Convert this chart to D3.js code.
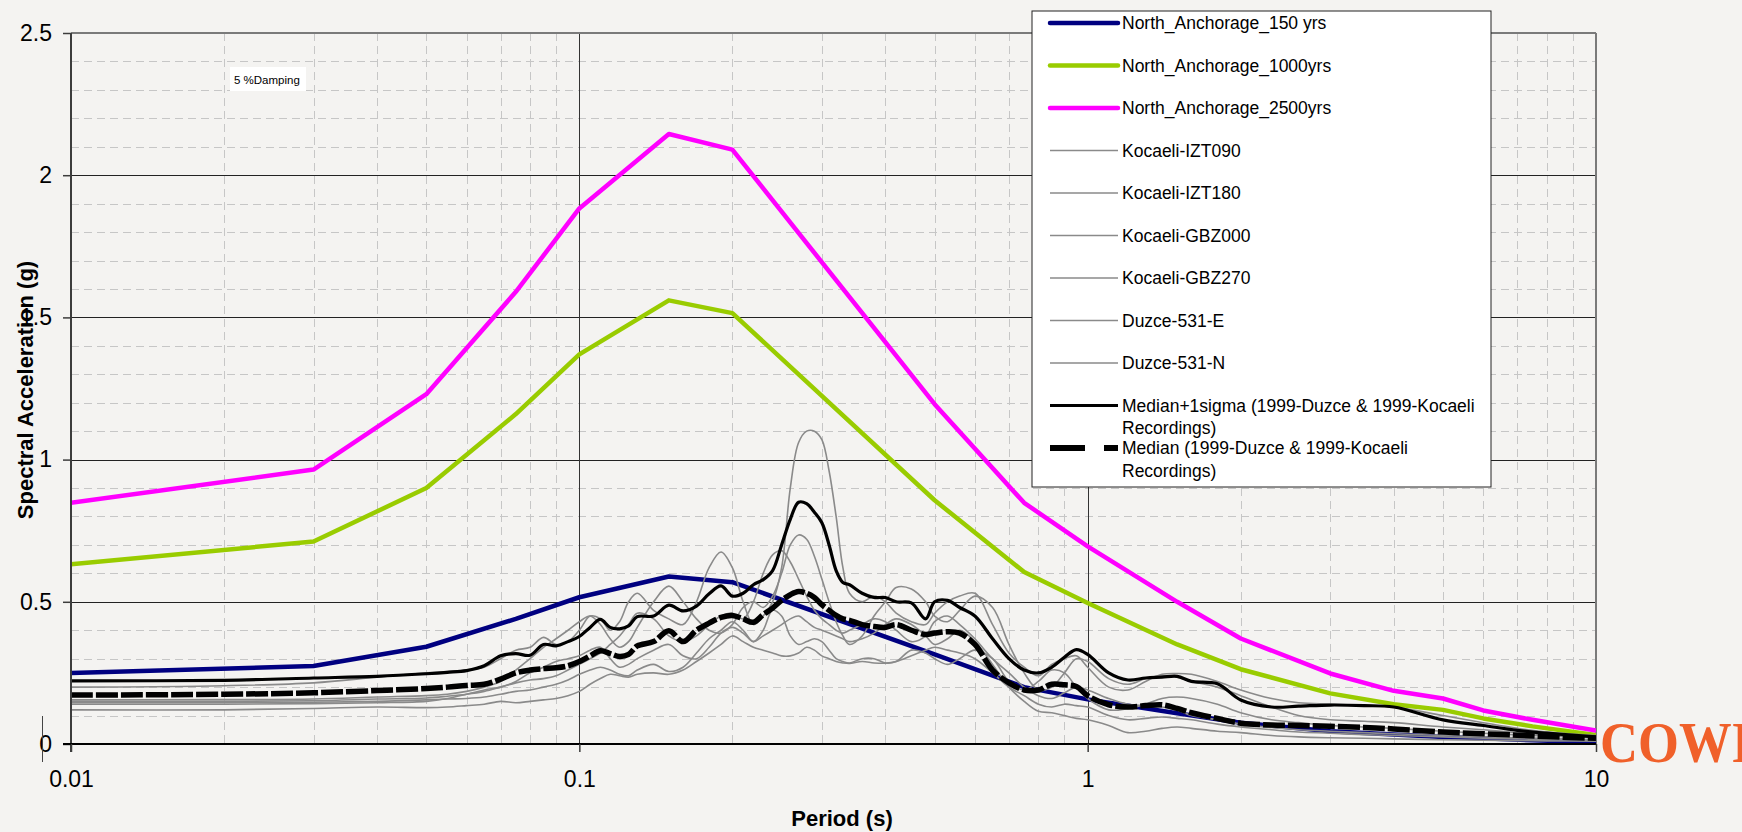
<!DOCTYPE html>
<html><head><meta charset="utf-8">
<script src="https://cdn.jsdelivr.net/npm/d3@7"></script>
<style>
html,body{margin:0;padding:0;background:#f4f3f1;}
svg{display:block;}
</style></head><body>
<svg id="chart" width="1742" height="832"></svg>
<script>
// ---------- axis ticks ----------
const xTicks = [0.01, 0.1, 1, 10];
const xTickLabels = ["0.01", "0.1", "1", "10"];
const yTicks = [0, 0.5, 1, 1.5, 2, 2.5];
const yTickLabels = ["0", "0.5", "1", "1.5", "2", "2.5"];

// ---------- target spectra ----------
const targetPeriods = [0.01, 0.03, 0.05, 0.075, 0.1, 0.15, 0.2, 0.5, 0.75, 1, 1.5, 2, 3, 4, 5, 6, 7.5, 10];
const na150  = [0.25, 0.274, 0.342, 0.44, 0.516, 0.589, 0.569, 0.315, 0.2, 0.157, 0.108, 0.075, 0.045, 0.033, 0.025, 0.02, 0.013, 0.006];
const na1000 = [0.632, 0.712, 0.90, 1.16, 1.37, 1.56, 1.515, 0.857, 0.605, 0.496, 0.35, 0.263, 0.178, 0.14, 0.12, 0.09, 0.062, 0.032];
const na2500 = [0.848, 0.965, 1.23, 1.59, 1.883, 2.145, 2.09, 1.195, 0.848, 0.695, 0.50, 0.371, 0.248, 0.187, 0.16, 0.118, 0.085, 0.047];

// ---------- recordings ----------
const recPeriods = [0.01,0.02,0.03,0.04,0.05,0.055,0.06,0.065,0.07,0.075,
 0.08,0.085,0.09,0.095,0.1,0.105,0.11,0.115,0.12,0.125,
 0.13,0.14,0.15,0.16,0.17,0.18,0.19,0.2,0.21,0.22,
 0.23,0.24,0.25,0.26,0.27,0.28,0.29,0.3,0.31,0.32,
 0.33,0.34,0.36,0.38,0.4,0.42,0.45,0.48,0.5,0.53,
 0.56,0.6,0.65,0.7,0.75,0.8,0.85,0.9,0.95,1.0,
 1.1,1.2,1.3,1.4,1.5,1.6,1.8,2.0,2.3,2.6,
 3.0,3.5,4.0,5.0,6.0,7.0,8.0,10];

const kocaeliIZT090 = [0.2,0.205,0.215,0.235,0.25,0.255,0.26,0.27,0.3,0.33,
 0.34,0.375,0.35,0.36,0.4,0.45,0.44,0.4,0.43,0.5,
 0.53,0.47,0.44,0.42,0.5,0.62,0.675,0.62,0.5,0.42,
 0.45,0.5,0.62,0.9,1.06,1.1,1.1,1.07,0.96,0.8,
 0.62,0.53,0.5,0.52,0.5,0.46,0.43,0.42,0.46,0.5,
 0.52,0.53,0.42,0.32,0.27,0.24,0.28,0.3,0.31,0.27,
 0.2,0.19,0.22,0.245,0.248,0.245,0.22,0.19,0.16,0.145,
 0.14,0.135,0.13,0.1,0.075,0.055,0.042,0.03];
const kocaeliIZT180 = [0.155,0.156,0.158,0.165,0.17,0.175,0.185,0.2,0.22,0.26,
 0.3,0.34,0.37,0.4,0.43,0.45,0.42,0.37,0.34,0.36,
 0.41,0.5,0.555,0.5,0.44,0.4,0.39,0.42,0.48,0.5,
 0.48,0.52,0.6,0.7,0.735,0.72,0.66,0.58,0.5,0.43,
 0.38,0.35,0.38,0.45,0.5,0.55,0.545,0.5,0.45,0.43,
 0.47,0.52,0.48,0.35,0.25,0.19,0.2,0.25,0.3,0.29,
 0.23,0.21,0.23,0.24,0.235,0.22,0.2,0.17,0.13,0.1,
 0.085,0.08,0.075,0.06,0.05,0.04,0.032,0.022];
const kocaeliGBZ000 = [0.15,0.15,0.152,0.158,0.162,0.168,0.175,0.185,0.2,0.215,
 0.225,0.23,0.24,0.26,0.28,0.3,0.32,0.35,0.38,0.42,
 0.46,0.44,0.38,0.36,0.38,0.42,0.45,0.46,0.44,0.5,
 0.6,0.665,0.68,0.64,0.58,0.52,0.47,0.44,0.42,0.4,
 0.39,0.4,0.42,0.44,0.43,0.4,0.36,0.38,0.43,0.45,
 0.42,0.37,0.3,0.25,0.2,0.17,0.16,0.18,0.2,0.19,
 0.16,0.14,0.135,0.13,0.12,0.1,0.085,0.07,0.058,0.05,
 0.045,0.04,0.036,0.03,0.025,0.022,0.02,0.015];
const kocaeliGBZ270 = [0.145,0.145,0.147,0.15,0.155,0.158,0.16,0.165,0.175,0.185,
 0.19,0.2,0.21,0.225,0.245,0.26,0.27,0.26,0.245,0.24,
 0.26,0.28,0.255,0.27,0.32,0.37,0.4,0.43,0.4,0.36,
 0.4,0.47,0.45,0.38,0.35,0.36,0.37,0.36,0.33,0.3,
 0.29,0.285,0.3,0.3,0.285,0.29,0.33,0.32,0.3,0.28,
 0.3,0.33,0.3,0.22,0.19,0.22,0.26,0.25,0.2,0.16,
 0.12,0.125,0.14,0.16,0.165,0.16,0.14,0.11,0.085,0.075,
 0.065,0.06,0.055,0.045,0.038,0.032,0.028,0.022];
const duzce531E = [0.14,0.14,0.142,0.145,0.15,0.16,0.175,0.19,0.2,0.22,
 0.25,0.27,0.29,0.3,0.31,0.33,0.34,0.3,0.27,0.28,
 0.3,0.33,0.35,0.31,0.3,0.34,0.39,0.41,0.39,0.36,
 0.38,0.4,0.42,0.44,0.45,0.43,0.41,0.4,0.39,0.38,
 0.37,0.36,0.37,0.39,0.42,0.44,0.42,0.38,0.35,0.37,
 0.4,0.36,0.28,0.2,0.15,0.115,0.11,0.1,0.09,0.085,
 0.065,0.04,0.045,0.055,0.06,0.055,0.045,0.04,0.03,0.025,
 0.022,0.02,0.018,0.015,0.013,0.012,0.011,0.01];
const duzce531N = [0.12,0.12,0.125,0.13,0.128,0.13,0.135,0.14,0.15,0.145,
 0.15,0.155,0.16,0.17,0.185,0.21,0.23,0.245,0.24,0.235,
 0.245,0.25,0.245,0.26,0.29,0.32,0.35,0.38,0.36,0.34,
 0.33,0.32,0.31,0.31,0.32,0.34,0.33,0.31,0.3,0.29,
 0.285,0.283,0.29,0.285,0.284,0.29,0.31,0.33,0.34,0.33,
 0.32,0.3,0.25,0.2,0.17,0.14,0.13,0.14,0.135,0.13,
 0.1,0.085,0.09,0.095,0.09,0.085,0.07,0.06,0.05,0.042,
 0.038,0.033,0.03,0.025,0.02,0.018,0.016,0.012];
const medianPlus1Sigma = [0.222,0.224,0.232,0.238,0.247,0.252,0.258,0.275,0.31,0.318,
 0.312,0.35,0.345,0.36,0.378,0.41,0.438,0.41,0.405,0.415,
 0.448,0.45,0.488,0.468,0.485,0.528,0.556,0.52,0.53,0.56,
 0.578,0.61,0.7,0.79,0.85,0.845,0.815,0.778,0.7,0.61,
 0.568,0.56,0.53,0.515,0.515,0.5,0.496,0.44,0.5,0.505,
 0.48,0.45,0.37,0.3,0.26,0.25,0.27,0.305,0.332,0.315,
 0.25,0.225,0.232,0.235,0.238,0.22,0.212,0.155,0.13,0.133,
 0.137,0.135,0.13,0.085,0.065,0.048,0.038,0.025];
const median = [0.172,0.175,0.18,0.188,0.195,0.2,0.206,0.21,0.228,0.25,
 0.26,0.265,0.268,0.275,0.29,0.31,0.328,0.318,0.308,0.315,
 0.345,0.36,0.398,0.36,0.4,0.425,0.445,0.452,0.44,0.428,
 0.455,0.478,0.505,0.525,0.536,0.53,0.515,0.49,0.47,0.452,
 0.44,0.435,0.42,0.413,0.41,0.42,0.4,0.385,0.39,0.395,
 0.39,0.35,0.26,0.215,0.19,0.19,0.21,0.208,0.202,0.17,
 0.138,0.13,0.135,0.138,0.125,0.11,0.09,0.073,0.067,0.065,
 0.062,0.058,0.053,0.042,0.036,0.031,0.026,0.02];

const seriesNames = ["North_Anchorage_150 yrs", "North_Anchorage_1000yrs", "North_Anchorage_2500yrs",
  "Kocaeli-IZT090", "Kocaeli-IZT180", "Kocaeli-GBZ000", "Kocaeli-GBZ270", "Duzce-531-E", "Duzce-531-N",
  "Median+1sigma (1999-Duzce & 1999-Kocaeli|Recordings)", "Median (1999-Duzce & 1999-Kocaeli|Recordings)"];

// ---------- layout ----------
const SANS = "'Liberation Sans', Arial, Helvetica, sans-serif";
const SERIF = "'Liberation Serif', 'Times New Roman', serif";
const W = 1742, H = 832;
const L = 71, R = 1596, T = 33, B = 744;
const svg = d3.select("#chart").style("font-family", SANS);
svg.append("rect").attr("width", W).attr("height", H).attr("fill", "#f4f3f1");

const x = d3.scaleLog().domain([0.01, 10]).range([L, R]);
const y = d3.scaleLinear().domain([0, 2.5]).range([B, T]);

// grid
const minorX = [];
[0.01, 0.1, 1].forEach(d => { for (let k = 2; k <= 9; k++) minorX.push(+(k * d).toPrecision(3)); });
const minorY = d3.range(1, 25).map(i => i / 10).filter(v => Math.abs(v * 2 - Math.round(v * 2)) > 1e-6);
const grid = svg.append("g");
grid.selectAll(".mx").data(minorX).join("line")
  .attr("x1", d => Math.round(x(d)) + 0.5).attr("x2", d => Math.round(x(d)) + 0.5)
  .attr("y1", T).attr("y2", B)
  .attr("stroke", "#c6c6c6").attr("stroke-width", 1).attr("stroke-dasharray", "8,5");
grid.selectAll(".my").data(minorY).join("line")
  .attr("x1", L).attr("x2", R)
  .attr("y1", d => Math.round(y(d)) + 0.5).attr("y2", d => Math.round(y(d)) + 0.5)
  .attr("stroke", "#c6c6c6").attr("stroke-width", 1).attr("stroke-dasharray", "8,5");
grid.selectAll(".My").data(yTicks.filter(v => v > 0 && v < 2.5)).join("line")
  .attr("x1", L).attr("x2", R)
  .attr("y1", d => Math.round(y(d)) + 0.5).attr("y2", d => Math.round(y(d)) + 0.5)
  .attr("stroke", "#222").attr("stroke-width", 1.2);
grid.selectAll(".Mx").data(xTicks.filter(v => v > 0.01 && v < 10)).join("line")
  .attr("x1", d => Math.round(x(d)) + 0.5).attr("x2", d => Math.round(x(d)) + 0.5)
  .attr("y1", T).attr("y2", B)
  .attr("stroke", "#333").attr("stroke-width", 1);
// top & right border
grid.append("line").attr("x1", L).attr("x2", R).attr("y1", y(2.5)).attr("y2", y(2.5))
  .attr("stroke", "#7a7a7a").attr("stroke-width", 2);
grid.append("line").attr("x1", R).attr("x2", R).attr("y1", T).attr("y2", B)
  .attr("stroke", "#7a7a7a").attr("stroke-width", 2);

// clip
svg.append("clipPath").attr("id", "clip").append("rect")
  .attr("x", L).attr("y", T - 2).attr("width", R - L).attr("height", B - T + 2);
const plot = svg.append("g").attr("clip-path", "url(#clip)");

const lineLin = d3.line().x(d => x(d[0])).y(d => y(d[1]));
const lineSmooth = d3.line().x(d => x(d[0])).y(d => y(d[1])).curve(d3.curveCatmullRom.alpha(0.5));

const targets = [
  { vals: na150, color: "#000080" },
  { vals: na1000, color: "#99cc00" },
  { vals: na2500, color: "#ff00ff" }
];
targets.forEach(s => {
  plot.append("path").datum(targetPeriods.map((p, i) => [p, s.vals[i]]))
    .attr("d", lineLin).attr("fill", "none").attr("stroke", s.color)
    .attr("stroke-width", 4.5).attr("stroke-linejoin", "round");
});
const recs = [kocaeliIZT090, kocaeliIZT180, kocaeliGBZ000, kocaeliGBZ270, duzce531E, duzce531N];
recs.forEach(vals => {
  plot.append("path").datum(recPeriods.map((p, i) => [p, vals[i]]))
    .attr("d", lineSmooth).attr("fill", "none").attr("stroke", "#8a8a8a")
    .attr("stroke-width", 1.6);
});
plot.append("path").datum(recPeriods.map((p, i) => [p, medianPlus1Sigma[i]]))
  .attr("d", lineSmooth).attr("fill", "none").attr("stroke", "#000")
  .attr("stroke-width", 3.2).attr("stroke-linejoin", "round");
plot.append("path").datum(recPeriods.map((p, i) => [p, median[i]]))
  .attr("d", lineSmooth).attr("fill", "none").attr("stroke", "#000")
  .attr("stroke-width", 5.5).attr("stroke-dasharray", "22,3");

// axes
const yAxis = d3.axisLeft(y).tickValues(yTicks).tickFormat((d, i) => yTickLabels[i])
  .tickSize(8).tickSizeOuter(0).tickPadding(11);
const gy = svg.append("g").attr("transform", `translate(${L},0)`).call(yAxis);
gy.select(".domain").attr("stroke", "#3c3c3c").attr("stroke-width", 2)
  .attr("d", `M0,${T}V${B + 8}`);
gy.selectAll(".tick line").attr("stroke", "#3c3c3c").attr("stroke-width", 1.5);
gy.selectAll(".tick text").attr("font-size", 23).attr("fill", "#000").attr("font-family", SANS);

const xAxis = d3.axisBottom(x).tickValues(xTicks).tickFormat((d, i) => xTickLabels[i])
  .tickSize(8).tickSizeOuter(0).tickPadding(19);
const gx = svg.append("g").attr("transform", `translate(0,${B})`).call(xAxis);
gx.select(".domain").attr("stroke", "#000").attr("stroke-width", 2).attr("d", `M${L - 8},0H${R}`);
gx.selectAll(".tick line").attr("stroke", "#3c3c3c").attr("stroke-width", 1.5);
gx.selectAll(".tick text").attr("font-size", 23).attr("fill", "#000").attr("font-family", SANS);

// stray mark near zero label
svg.append("line").attr("x1", 42.5).attr("x2", 42.5).attr("y1", 716).attr("y2", 762)
  .attr("stroke", "#444").attr("stroke-width", 1);

// axis titles
svg.append("text").attr("transform", "translate(33,390) rotate(-90)")
  .attr("text-anchor", "middle").attr("font-size", 22).attr("font-weight", "bold")
  .attr("font-family", SANS).attr("fill", "#000").text("Spectral Acceleration (g)");
svg.append("text").attr("x", 842).attr("y", 826)
  .attr("text-anchor", "middle").attr("font-size", 22).attr("font-weight", "bold")
  .attr("font-family", SANS).attr("fill", "#000").text("Period (s)");

// damping note
svg.append("rect").attr("x", 230).attr("y", 67).attr("width", 76).attr("height", 24).attr("fill", "#fff");
svg.append("text").attr("x", 234).attr("y", 83.5).attr("font-size", 11.5).attr("font-family", SANS)
  .attr("fill", "#000").text("5 %Damping");

// legend
const lg = svg.append("g");
lg.append("rect").attr("x", 1032).attr("y", 11).attr("width", 459).attr("height", 476)
  .attr("fill", "#fff").attr("stroke", "#222").attr("stroke-width", 1);
const legendStyles = [
  { color: "#000080", w: 4.5 }, { color: "#99cc00", w: 4.5 }, { color: "#ff00ff", w: 4.5 },
  { color: "#8a8a8a", w: 1.6 }, { color: "#8a8a8a", w: 1.6 }, { color: "#8a8a8a", w: 1.6 },
  { color: "#8a8a8a", w: 1.6 }, { color: "#8a8a8a", w: 1.6 }, { color: "#8a8a8a", w: 1.6 },
  { color: "#000", w: 3.2 }, { color: "#000", w: 6, dash: "35,19" }
];
seriesNames.forEach((name, i) => {
  const cy = 23 + i * 42.5;
  const st = legendStyles[i];
  lg.append("line").attr("x1", 1050).attr("x2", 1118).attr("y1", cy).attr("y2", cy)
    .attr("stroke", st.color).attr("stroke-width", st.w).attr("stroke-linecap", st.w > 4 && !st.dash ? "round" : "butt")
    .attr("stroke-dasharray", st.dash || null);
  name.split("|").forEach((ln, j) => {
    lg.append("text").attr("x", 1122).attr("y", cy + 6.3 + j * 22.3)
      .attr("font-size", 17.5).attr("font-family", SANS).attr("fill", "#000").text(ln);
  });
});

// logo
svg.append("text").attr("x", 1600).attr("y", 762)
  .attr("font-family", SERIF).attr("font-weight", "bold")
  .attr("font-size", 58).attr("fill", "#f0602a")
  .attr("textLength", 152).attr("lengthAdjust", "spacingAndGlyphs").text("COWI");
</script>
</body></html>
